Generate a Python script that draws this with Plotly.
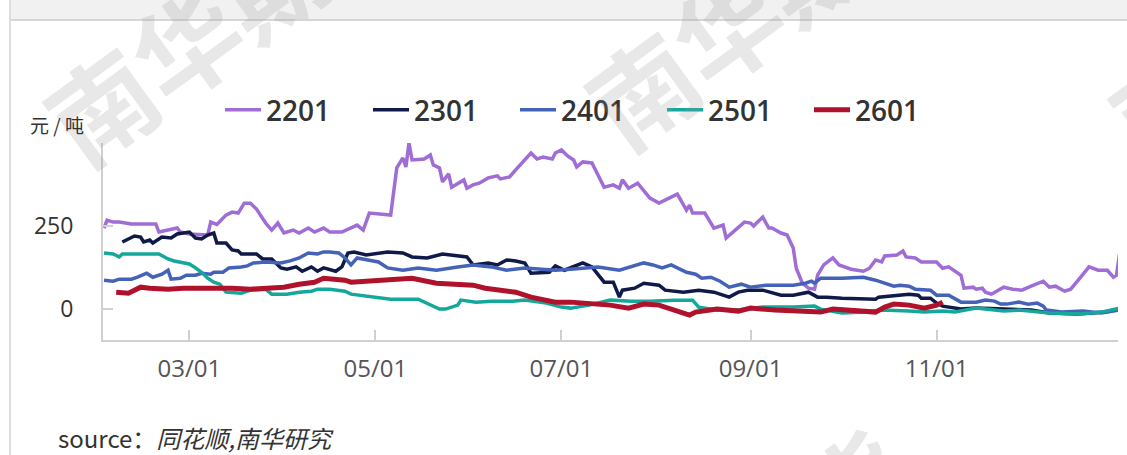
import plotly.graph_objects as go
import pandas as pd

# ---------------- data (x = day of year, y = 元/吨) ----------------
series_names = ["2201", "2301", "2401", "2501", "2601"]

day_2201 = [32, 33, 35, 37, 41, 49, 50, 53, 56, 57, 60, 66, 67, 69, 72, 74, 76, 78, 80, 82,
            85, 87, 89, 91, 94, 96, 99, 101, 104, 106, 110, 115, 117, 119, 126, 128, 130, 131, 132, 133,
            137, 139, 140, 142, 143, 145, 146, 150, 151, 153, 155, 158, 161, 162, 165, 167, 169, 172, 173, 174,
            176, 179, 180, 182, 184, 186, 187, 189, 192, 196, 199, 201, 202, 204, 207, 211, 214, 217, 220, 223,
            224, 225, 229, 232, 235, 236, 238, 242, 244, 245, 248, 250, 251, 254, 256, 258, 259, 261, 263, 265,
            266, 268, 271, 273, 277, 281, 283, 285, 287, 288, 292, 294, 295, 298, 300, 305, 307, 309, 313, 314,
            317, 318, 320, 321, 323, 327, 330, 333, 336, 340, 342, 344, 347, 349, 352, 355, 358, 361, 363, 364, 365]
val_2201 = [244, 268, 262, 262, 256, 256, 232, 238, 244, 232, 226, 223, 262, 255, 283, 292, 289, 319, 319, 301,
            259, 238, 259, 229, 238, 229, 244, 232, 244, 232, 232, 253, 238, 289, 283, 425, 455, 428, 500, 449,
            452, 464, 434, 425, 383, 407, 367, 389, 364, 374, 379, 395, 401, 392, 398, 419, 440, 470, 461, 452,
            458, 452, 470, 479, 461, 449, 428, 443, 440, 367, 374, 364, 389, 364, 379, 334, 319, 334, 346, 298,
            313, 289, 289, 244, 253, 214, 229, 262, 259, 250, 277, 244, 244, 229, 223, 184, 123, 78, 63, 60,
            102, 133, 154, 133, 120, 114, 123, 148, 142, 160, 163, 175, 157, 154, 142, 142, 123, 127, 102, 63,
            66, 60, 63, 51, 45, 66, 60, 57, 69, 84, 66, 69, 54, 60, 93, 127, 117, 117, 96, 102, 166]

day_2301 = [38, 40, 42, 44, 45, 47, 48, 51, 54, 56, 59, 60, 62, 64, 66, 68, 69, 72, 74, 76,
            77, 79, 82, 84, 87, 90, 92, 95, 97, 100, 102, 104, 108, 110, 112, 114, 118, 125, 130, 133,
            138, 143, 151, 153, 158, 161, 164, 167, 170, 172, 178, 180, 183, 189, 192, 196, 199, 201, 202, 206,
            209, 214, 216, 222, 227, 232, 237, 240, 243, 248, 254, 258, 263, 266, 269, 274, 285, 286, 290, 296,
            299, 300, 303, 305, 307, 311, 313, 318, 327, 336, 342, 351, 356, 360, 365]
val_2301 = [202, 211, 220, 217, 202, 208, 199, 217, 214, 226, 229, 232, 214, 211, 223, 229, 199, 199, 178, 175,
            166, 166, 166, 151, 151, 124, 120, 127, 114, 127, 114, 124, 114, 127, 169, 172, 163, 172, 169, 157,
            154, 166, 157, 133, 139, 133, 148, 145, 139, 108, 111, 130, 117, 139, 127, 81, 81, 36, 57, 63,
            78, 72, 57, 51, 57, 51, 36, 51, 57, 57, 42, 42, 51, 36, 36, 33, 30, 36, 39, 45,
            42, 33, 33, 18, 9, 3, 0, 3, 0, -3, -12, -15, -12, -9, 0]

day_2401 = [32, 35, 37, 41, 43, 46, 48, 51, 53, 54, 57, 59, 62, 64, 67, 68, 71, 73, 77, 79,
            81, 85, 90, 93, 96, 99, 102, 104, 106, 109, 111, 113, 115, 122, 125, 130, 135, 141, 148, 153,
            159, 164, 170, 176, 180, 185, 194, 201, 209, 212, 215, 218, 220, 223, 226, 228, 231, 234, 237, 241,
            244, 249, 254, 258, 262, 264, 265, 267, 274, 281, 285, 288, 291, 293, 296, 298, 303, 305, 309, 313,
            318, 321, 324, 326, 328, 332, 335, 338, 340, 341, 346, 353, 359, 365]
val_2401 = [87, 84, 90, 90, 96, 108, 96, 105, 117, 90, 93, 102, 102, 108, 105, 111, 111, 124, 127, 130,
            139, 142, 139, 145, 154, 169, 166, 172, 172, 169, 154, 133, 154, 142, 124, 117, 124, 117, 127, 133,
            127, 117, 124, 120, 117, 120, 127, 117, 139, 133, 124, 133, 124, 111, 105, 93, 96, 84, 66, 75,
            66, 72, 72, 72, 78, 84, 78, 93, 93, 96, 87, 78, 69, 72, 69, 60, 57, 42, 42, 21,
            21, 27, 24, 15, 15, 21, 15, 18, 9, -3, -9, -6, -12, -3]

day_2501 = [32, 35, 37, 38, 50, 53, 55, 58, 60, 62, 64, 66, 68, 70, 72, 77, 80, 85, 87, 92,
            96, 100, 102, 106, 111, 113, 120, 126, 135, 138, 142, 144, 148, 149, 154, 159, 166, 170, 173, 177,
            182, 185, 191, 198, 205, 211, 219, 225, 227, 233, 240, 248, 258, 265, 267, 274, 281, 287, 296, 301,
            307, 311, 318, 327, 332, 342, 352, 359, 365]
val_2501 = [169, 166, 157, 166, 166, 151, 145, 139, 136, 124, 111, 93, 81, 75, 51, 48, 57, 60, 45, 45,
            51, 54, 60, 60, 54, 45, 36, 30, 30, 18, 0, 0, 12, 27, 21, 24, 24, 27, 24, 18,
            6, 3, 12, 27, 24, 24, 27, 27, 6, -3, -3, 6, 6, 9, 0, -12, -9, -3, -6, -9,
            -6, -9, 3, -6, -3, -12, -15, -9, 3]

day_2601 = [36, 40, 42, 44, 47, 53, 58, 63, 69, 74, 80, 85, 91, 96, 101, 104, 111, 113, 120, 126,
            133, 141, 148, 153, 157, 162, 167, 172, 180, 185, 191, 198, 204, 209, 214, 220, 224, 226, 233, 240,
            244, 252, 263, 267, 271, 285, 288, 291, 296, 301, 305, 307]
val_2601 = [51, 48, 57, 66, 63, 60, 63, 63, 66, 63, 60, 63, 66, 75, 81, 93, 87, 81, 84, 87,
            93, 78, 75, 72, 63, 57, 51, 36, 21, 21, 18, 12, 3, 15, 12, -6, -18, -9, 0, -6,
            3, -3, -6, -9, 0, -9, 6, 15, 12, 3, 12, 21]

series_days = [day_2201, day_2301, day_2401, day_2501, day_2601]
series_vals = [val_2201, val_2301, val_2401, val_2501, val_2601]

tick_days = [60, 121, 182, 244, 305]
tick_labels = ["03/01", "05/01", "07/01", "09/01", "11/01"]
y_ticks = [0, 250]

# ---------------- style ----------------
colors = ["#a06cd6", "#0f1a48", "#4462b8", "#14a89c", "#b0112b"]
widths = [3.5, 3.5, 3.5, 3.5, 5]
legend_left = [225, 373, 520, 667, 814]   # pixel start of each legend swatch

W, H = 1127, 455
ML, MR, MT, MB = 103, 9, 143, 115
PW, PH = W - ML - MR, H - MT - MB


def to_date(days):
    return [pd.Timestamp("2021-01-01") + pd.Timedelta(days=d - 1) for d in days]


def px(x):
    return (x - ML) / PW


def py(y):
    return (H - MB - y) / PH


FONT = "Open Sans, Noto Sans CJK SC, sans-serif"
CJK = "Noto Sans CJK SC, Noto Sans, sans-serif"

fig = go.Figure()
legend_ids = ["legend", "legend2", "legend3", "legend4", "legend5"]
for name, d, v, c, w, lg in zip(series_names, series_days, series_vals, colors, widths, legend_ids):
    fig.add_trace(go.Scatter(x=to_date(d), y=v, name=name, mode="lines",
                             line=dict(color=c, width=w), legend=lg))

x0, x1 = to_date([31.67, 364.5])

legend_style = dict(orientation="h", xanchor="left", yanchor="middle",
                    font=dict(size=28, color="#333", family=FONT, weight=600),
                    bgcolor="rgba(0,0,0,0)", borderwidth=0, itemwidth=36)
layout_legends = {}
for lg, lx in zip(legend_ids, legend_left):
    layout_legends[lg] = dict(legend_style, x=px(lx - 5), y=py(110))

fig.update_layout(
    width=W, height=H,
    margin=dict(l=ML, r=MR, t=MT, b=MB, pad=0),
    paper_bgcolor="white", plot_bgcolor="white",
    font=dict(family=FONT, color="#333"),
    showlegend=True,
    xaxis=dict(range=[x0, x1], tickvals=to_date(tick_days), ticktext=tick_labels,
               showgrid=False, zeroline=False, showline=True, linecolor="#d0d0d0", linewidth=2,
               ticks="inside", ticklen=10, tickcolor="#d0d0d0", tickwidth=2,
               tickfont=dict(size=24, color="#555", family=FONT), ticklabelstandoff=6),
    yaxis=dict(range=[-93, 500], tickvals=y_ticks, ticktext=[str(t) for t in y_ticks],
               showgrid=False, zeroline=False, showline=True, linecolor="#d0d0d0", linewidth=2,
               ticks="inside", ticklen=10, tickcolor="#d0d0d0", tickwidth=2,
               tickfont=dict(size=23, color="#333", family=FONT), ticklabelstandoff=23),
    **layout_legends,
)

# frame: grey header band and left border
fig.add_shape(type="rect", xref="paper", yref="paper", x0=px(10), x1=px(W), y0=py(20), y1=py(0),
              fillcolor="#f1f1f1", line=dict(width=0), layer="below")
fig.add_shape(type="line", xref="paper", yref="paper", x0=px(10), x1=px(W), y0=py(20), y1=py(20),
              line=dict(color="#d6d6d6", width=2))
fig.add_shape(type="line", xref="paper", yref="paper", x0=px(10), x1=px(10), y0=py(0), y1=py(H),
              line=dict(color="#dedede", width=2))

# watermarks
for cx, cy in [(227, 10), (768, -6), (1292, 7), (722, 578)]:
    fig.add_annotation(xref="paper", yref="paper", x=px(cx), y=py(cy), text="南华期货",
                       showarrow=False, textangle=-36, xanchor="center", yanchor="middle",
                       font=dict(size=105, color="rgba(150,150,150,0.22)", family=CJK, weight=700))

# y axis unit
fig.add_annotation(xref="paper", yref="paper", x=px(28), y=py(124), text="元 / 吨",
                   showarrow=False, xanchor="left", yanchor="middle",
                   font=dict(size=19, color="#333", family=CJK))

# source
fig.add_annotation(xref="paper", yref="paper", x=px(56), y=py(437),
                   text="source：<i>同花顺,南华研究</i>",
                   showarrow=False, xanchor="left", yanchor="middle",
                   font=dict(size=24, color="#333", family=CJK))

fig.write_html("out.html", config={"displayModeBar": False},
               post_script="document.body.style.margin='0';document.body.style.overflow='hidden';")
